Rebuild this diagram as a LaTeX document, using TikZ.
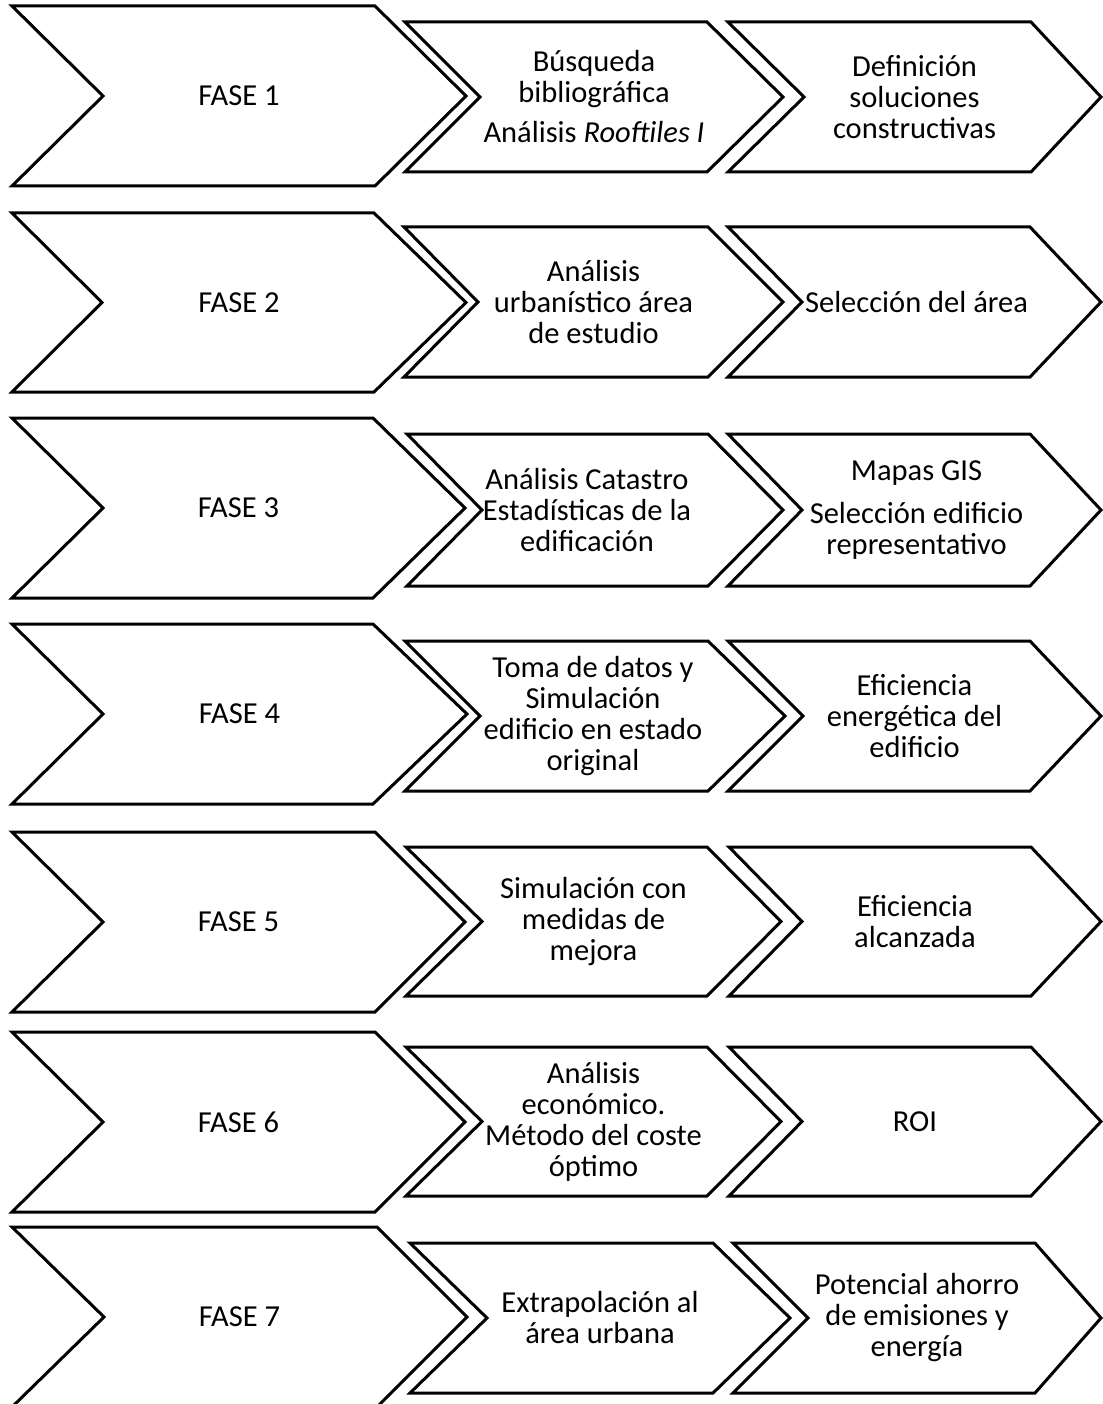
\documentclass[tikz,border=0pt]{standalone}
\usepackage{fontspec}
\setmainfont{Carlito}
\tikzset{
  chev/.style={draw=black, line width=3pt, line join=miter, fill=white},
  txt/.style={align=center, font=\fontsize{30.5}{31}\selectfont, inner sep=0pt}
}
% #1 left, #2 notch, #3 top-right, #4 tip, #5 top, #6 bottom, #7 name, #8 text, #9 text x offset
\newcommand{\chevshape}[9]{%
  \draw[chev] (#1,#5) -- (#3,#5) -- (#4,{(#5+#6)/2}) -- (#3,#6) -- (#1,#6) -- (#2,{(#5+#6)/2}) -- cycle;
  \node[txt] (#7) at ({(#1+#4)/2+#9},{(#5+#6)/2}) {#8};%
}
\begin{document}
\begin{tikzpicture}[x=1pt,y=-1pt]
\useasboundingbox (0,0) rectangle (1102,1404);
\fill[white] (0,0) rectangle (1102,1404);
% Row 1
\chevshape{12}{103}{375}{466}{6}{186}{f1}{FASE 1}{0}
\chevshape{405}{480}{707}{783}{22}{172}{a1}{Búsqueda\\bibliográfica\\[9pt]Análisis \textit{Rooftiles I}}{0}
\chevshape{728}{804}{1031}{1101}{22}{172}{b1}{Definición\\soluciones\\constructivas}{0}
% Row 2
\chevshape{12}{102}{374}{466}{213}{392}{f2}{FASE 2}{0}
\chevshape{404}{478}{708}{783}{227}{377}{a2}{Análisis\\urbanístico área\\de estudio}{0}
\chevshape{728}{802}{1030}{1101}{227}{377}{b2}{Selección del área}{2}
% Row 3
\chevshape{12}{103}{373}{465}{418}{598}{f3}{FASE 3}{0}
\chevshape{407}{482}{708}{783}{434}{586}{a3}{Análisis Catastro\\Estadísticas de la\\edificación}{-8}
\chevshape{728}{802}{1030}{1101}{434}{586}{b3}{Mapas GIS\\[12pt]Selección edificio\\representativo}{2}
% Row 4
\chevshape{12}{103}{373}{467}{624}{804}{f4}{FASE 4}{0}
\chevshape{405}{480}{708}{785}{641}{791}{a4}{Toma de datos y\\Simulación\\edificio en estado\\original}{-2}
\chevshape{728}{803}{1030}{1101}{641}{791}{b4}{Eficiencia\\energética del\\edificio}{0}
% Row 5
\chevshape{12}{103}{375}{465}{832}{1012}{f5}{FASE 5}{0}
\chevshape{406}{482}{707}{781}{847}{996}{a5}{Simulación con\\medidas de\\mejora}{0}
\chevshape{729}{802}{1031}{1101}{847}{996}{b5}{Eficiencia\\alcanzada}{0}
% Row 6
\chevshape{12}{103}{375}{465}{1032}{1212}{f6}{FASE 6}{0}
\chevshape{406}{482}{707}{781}{1047}{1196}{a6}{Análisis\\económico.\\Método del coste\\óptimo}{0}
\chevshape{729}{802}{1031}{1101}{1047}{1196}{b6}{ROI}{0}
% Row 7
\chevshape{12}{104}{377}{467}{1227}{1407}{f7}{FASE 7}{0}
\chevshape{410}{487}{713}{790}{1243}{1393}{a7}{Extrapolación al\\área urbana}{0}
\chevshape{733}{808}{1035}{1101}{1243}{1393}{b7}{Potencial ahorro\\de emisiones y\\energía}{0}
\end{tikzpicture}
\end{document}
